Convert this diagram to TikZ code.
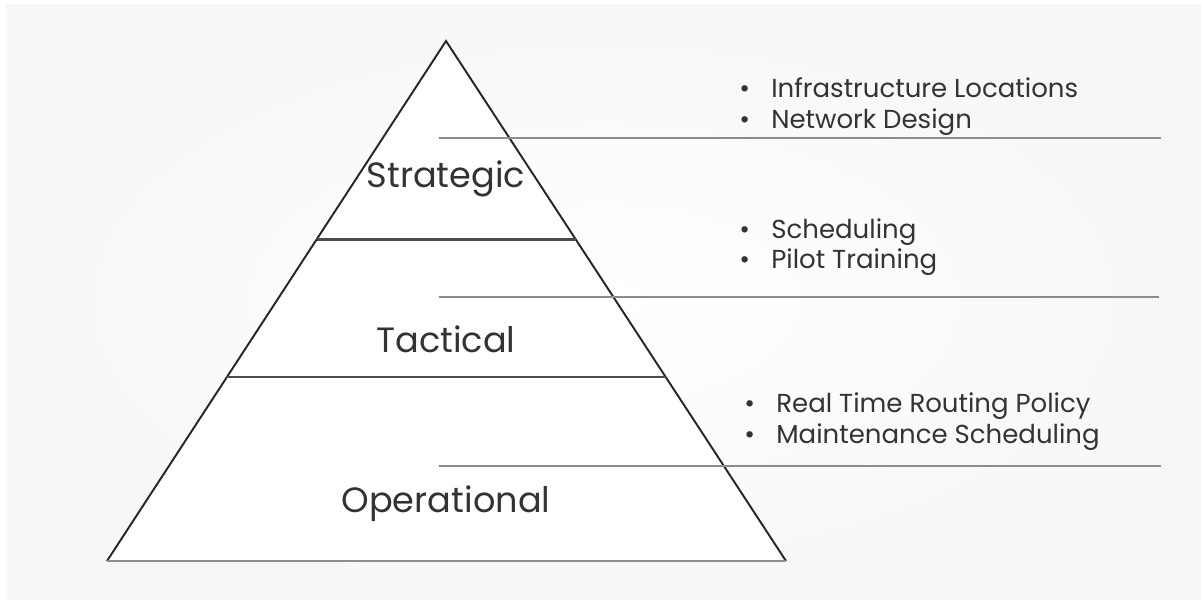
\documentclass[tikz,border=0pt]{standalone}
\usepackage{fontspec}
\setmainfont{Poppins}
\usetikzlibrary{calc}

\tikzset{
  side/.style={line width=1.1pt, draw=black!85},
  tier/.style={line width=1.6pt, draw=black!70},
  rule/.style={line width=1.3pt, draw=black!45},
  level/.style={font=\fontsize{20}{24}\selectfont, text=black!80, inner sep=0pt, anchor=base},
  item/.style={font=\fontsize{14.8}{18}\selectfont, text=black!80, inner sep=0pt, anchor=base west},
}
\newcommand{\bull}[1]{\makebox[0.64cm][l]{\textbullet}#1}

\begin{document}
\begin{tikzpicture}[x=0.02cm, y=-0.02cm]
    \useasboundingbox (0,0) rectangle (1201,599);
    \fill[white] (0,0) rectangle (1201,599);
    \shade[inner color=white, outer color=black!3] (6,4) rectangle (1201,599);

    % pyramid
    \coordinate (apex) at (446,41);
    \coordinate (bl) at (107,561);
    \coordinate (br) at (786,561);
    \fill[white] (bl) -- (apex) -- (br) -- cycle;
    \draw[side] (bl) -- (apex) -- (br);
    \draw[rule] (bl) -- (br);
    \draw[tier] ($(apex)!0.381!(bl)$) -- ($(apex)!0.381!(br)$);
    \draw[tier] ($(apex)!0.646!(bl)$) -- ($(apex)!0.646!(br)$);

    % separators on the right
    \draw[rule] (439,138) -- (1161,138);
    \draw[rule] (439,297) -- (1159,297);
    \draw[rule] (439,466) -- (1161,466);

    % level names
    \node[level] (strat) at (446,187) {Strategic};
    \node[level] (tact)  at (446,352) {Tactical};
    \node[level] (oper)  at (446,512) {Operational};

    % decisions per level
    \node[item] (infra) at (739,97)  {\bull{Infrastructure Locations}};
    \node[item] (net)   at (739,128) {\bull{Network Design}};
    \node[item] (sched) at (739,238) {\bull{Scheduling}};
    \node[item] (pilot) at (739,268) {\bull{Pilot Training}};
    \node[item] (rtr)   at (744,412) {\bull{Real Time Routing Policy}};
    \node[item] (maint) at (744,443) {\bull{Maintenance Scheduling}};
\end{tikzpicture}
\end{document}
